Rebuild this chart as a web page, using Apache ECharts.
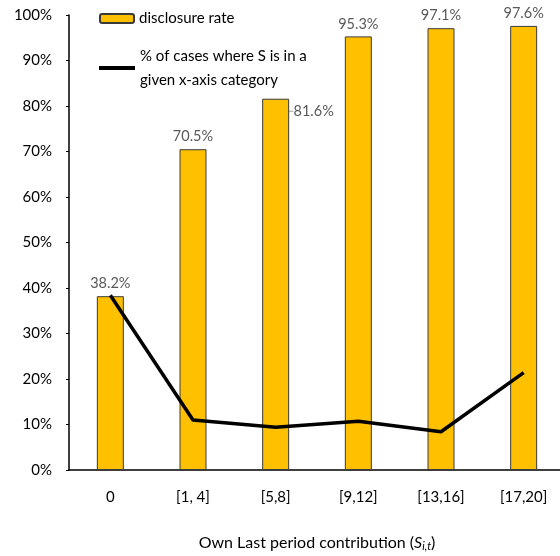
<!DOCTYPE html>
<html>
<head>
<meta charset="utf-8">
<script src="https://cdn.jsdelivr.net/npm/echarts@6/dist/echarts.min.js"></script>
<style>
  html, body { margin: 0; padding: 0; background: #fff; }
  #main { width: 560px; height: 556px; }
</style>
</head>
<body>
<div id="main"></div>
<script>
// data
var categories = ['0', '[1, 4]', '[5,8]', '[9,12]', '[13,16]', '[17,20]'];
var disclosureRate = [38.2, 70.5, 81.6, 95.3, 97.1, 97.6];
var casesShare = [38.4, 11.0, 9.4, 10.7, 8.4, 21.4];
var barName = 'disclosure rate';
var lineName = '% of cases where S is in a given x-axis category';

var myChart = echarts.init(document.getElementById('main'));
var font = 'Lato, "Open Sans", sans-serif';

var barData = disclosureRate.map(function(v, i) {
    var item = { value: v };
    if (i === 2) {
        item.labelLine = { show: true, lineStyle: { color: '#a6a6a6', width: 1 } };
    }
    return item;
});

option = {
    animation: false,
    textStyle: { fontFamily: font },
    grid: { left: 69, top: 15, width: 496, bottom: 86, containLabel: false, outerBoundsMode: 'none' },
    legend: [{
        data: [barName],
        left: 94, top: 6,
        itemWidth: 34, itemHeight: 9,
        textStyle: { fontSize: 15, color: '#000', fontFamily: font }
    }, {
        data: [{ name: lineName, icon: 'rect' }],
        left: 94, top: 27,
        itemWidth: 36, itemHeight: 4,
        formatter: function() {
            return '% of cases where S is in a\ngiven x-axis category';
        },
        textStyle: { fontSize: 15, color: '#000', fontFamily: font, lineHeight: 24, padding: [24, 0, 0, 0] }
    }],
    xAxis: {
        type: 'category',
        data: categories,
        axisLine: { lineStyle: { color: '#000', width: 1.5 } },
        axisTick: { show: false },
        axisLabel: { color: '#000', fontSize: 15, margin: 20, fontFamily: font },
        name: '{a|Own Last period contribution (}{i|S}{s|i,t}{a|)}',
        nameLocation: 'middle',
        nameGap: 63,
        nameTextStyle: {
            rich: {
                a: { fontSize: 16, color: '#000', fontFamily: font },
                i: { fontSize: 16, color: '#000', fontStyle: 'italic', fontFamily: font },
                s: { fontSize: 11, color: '#000', fontStyle: 'italic', fontFamily: font, padding: [8, 0, 0, 0] }
            }
        }
    },
    yAxis: {
        type: 'value',
        min: 0, max: 100, interval: 10,
        axisLine: { show: true, lineStyle: { color: '#000', width: 1.5 } },
        axisTick: { show: true, inside: false, length: 3, lineStyle: { color: '#000' } },
        splitLine: { show: false },
        axisLabel: { formatter: '{value}%', color: '#000', fontSize: 15, margin: 17, fontFamily: font }
    },
    series: [{
        name: barName,
        type: 'bar',
        data: barData,
        barWidth: 27,
        itemStyle: { color: '#FFC000', borderColor: '#3a3a3a', borderWidth: 1 },
        label: {
            show: true,
            position: 'top',
            distance: 5,
            color: '#595959',
            fontSize: 14.5,
            fontFamily: font,
            formatter: function(p) { return p.value.toFixed(1) + '%'; }
        },
        labelLayout: function(p) {
            if (p.dataIndex === 2) {
                return { dx: 38, dy: 25 };
            }
            return {};
        }
    }, {
        name: lineName,
        type: 'line',
        data: casesShare,
        symbol: 'none',
        lineStyle: { color: '#000', width: 3.5 },
        itemStyle: { color: '#000' }
    }]
};

myChart.setOption(option);
</script>
</body>
</html>
